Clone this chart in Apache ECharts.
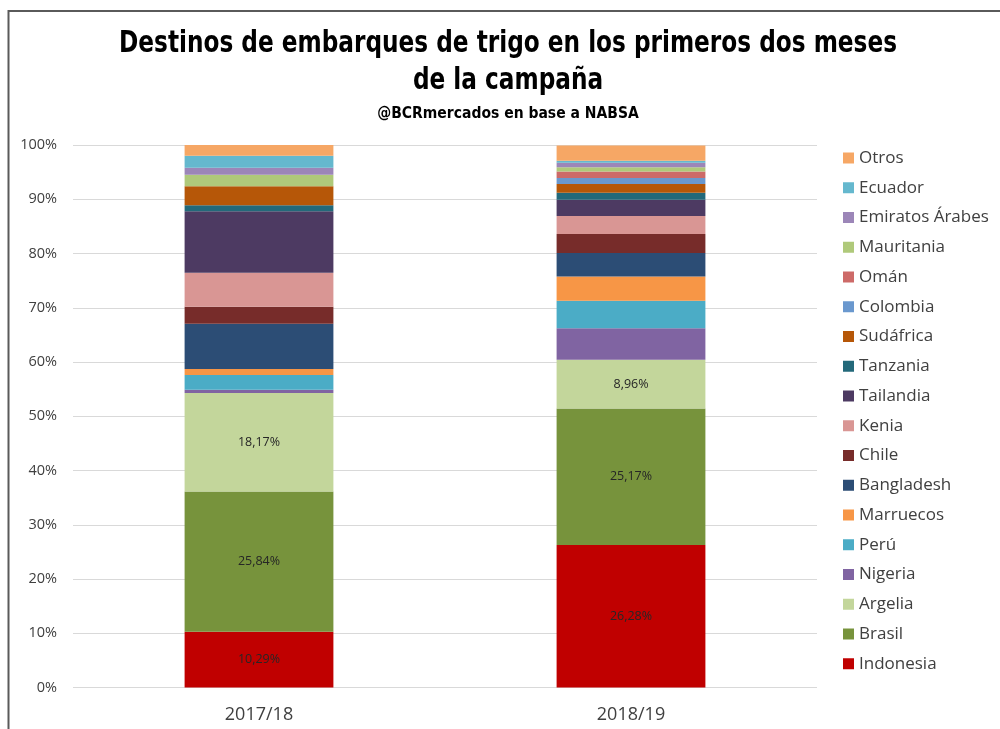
<!DOCTYPE html>
<html>
<head>
<meta charset="utf-8">
<script src="https://cdn.jsdelivr.net/npm/echarts@6/dist/echarts.min.js"></script>
<style>
  html, body { margin: 0; padding: 0; background: #fff; }
  #chart { width: 1000px; height: 729px; }
</style>
</head>
<body>
<div id="chart"></div>
<script>
// ── DATA ───────────────────────────────────────────
const campaigns = ['2017/18', '2018/19'];

// bottom → top stacking order
const countries = [
  'Indonesia', 'Brasil', 'Argelia', 'Nigeria', 'Perú', 'Marruecos',
  'Bangladesh', 'Chile', 'Kenia', 'Tailandia', 'Tanzania', 'Sudáfrica',
  'Colombia', 'Omán', 'Mauritania', 'Emiratos Árabes', 'Ecuador', 'Otros'
];

const share1718 = [10.29, 25.84, 18.17, 0.6, 2.7, 1.1, 8.35, 3.15, 6.25, 11.35, 1.1, 3.5, 0, 0, 2.1, 1.3, 2.2, 2.0];
const share1819 = [26.28, 25.17, 8.96, 5.8, 5.1, 4.45, 4.35, 3.5, 3.3, 3.0, 1.3, 1.6, 1.1, 1.2, 0.8, 0.8, 0.4, 2.8];

// which segments carry a value label
const labelled1718 = ['Indonesia', 'Brasil', 'Argelia'];
const labelled1819 = ['Indonesia', 'Brasil', 'Argelia'];

const colors = [
  '#C00000', '#77933C', '#C3D69B', '#8064A2', '#4BACC6', '#F79646',
  '#2C4D75', '#772C2A', '#D99694', '#4D3A62', '#23697A', '#B65708',
  '#6A98CE', '#CD6A68', '#AFC97A', '#9C86B8', '#65B8CE', '#F6A765'
];

const yTicks = [0, 10, 20, 30, 40, 50, 60, 70, 80, 90, 100];

const titleLines = ['Destinos de embarques de trigo en los primeros dos meses', 'de la campaña'];
const subtitle = '@BCRmercados en base a NABSA';

// ── CHART ──────────────────────────────────────────
const chart = echarts.init(document.getElementById('chart'));
const heavy = '"DejaVu Sans Condensed", "DejaVu Sans", sans-serif';
const body = '"Open Sans", sans-serif';

const fmtPct = v => v.toFixed(2).replace('.', ',') + '%';

const series = countries.map((name, i) => ({
  name,
  type: 'bar',
  stack: 'total',
  barWidth: '40%',
  itemStyle: { color: colors[i] },
  data: [
    { value: share1718[i], label: { show: labelled1718.includes(name) } },
    { value: share1819[i], label: { show: labelled1819.includes(name) } },
  ],
  label: {
    position: 'inside',
    formatter: p => fmtPct(p.value),
    color: '#262626',
    fontSize: 12.5,
    fontFamily: body,
  },
}));

// condensed-looking heading: squeeze a bold face horizontally
const headText = (text, y, size, sx) => ({
  type: 'text', x: 508, y, scaleX: sx, silent: true,
  style: {
    text, align: 'center', verticalAlign: 'middle',
    font: `bold ${size}px ${heavy}`, fill: '#000',
  },
});

chart.setOption({
  animation: false,
  graphic: [
    {
      type: 'rect', silent: true,
      shape: { x: 8.5, y: 11, width: 1010, height: 740 },
      style: { fill: 'none', stroke: '#5A5A5A', lineWidth: 2 },
    },
    headText(titleLines[0], 44, 30, 0.86),
    headText(titleLines[1], 81, 30, 0.86),
    headText(subtitle, 114, 16, 0.97),
  ],
  legend: {
    data: [...countries].reverse(),
    orient: 'vertical',
    left: 838, top: 142,
    itemWidth: 11, itemHeight: 11, itemGap: 7.75,
    icon: 'rect',
    textStyle: { fontFamily: body, fontSize: 17, color: '#404040', lineHeight: 22 },
  },
  grid: { left: 73, right: 183, top: 145, bottom: 41.5 },
  xAxis: {
    type: 'category',
    data: campaigns,
    axisLine: { show: false },
    axisTick: { show: false },
    axisLabel: { fontFamily: body, fontSize: 18, color: '#404040', margin: 18 },
  },
  yAxis: {
    type: 'value',
    min: yTicks[0], max: yTicks[yTicks.length - 1], interval: 10,
    axisLine: { show: false },
    axisTick: { show: false },
    axisLabel: { fontFamily: body, fontSize: 14.5, color: '#404040', margin: 16, formatter: v => v + '%' },
    splitLine: { lineStyle: { color: '#D9D9D9', width: 1 } },
  },
  series,
});
</script>
</body>
</html>
